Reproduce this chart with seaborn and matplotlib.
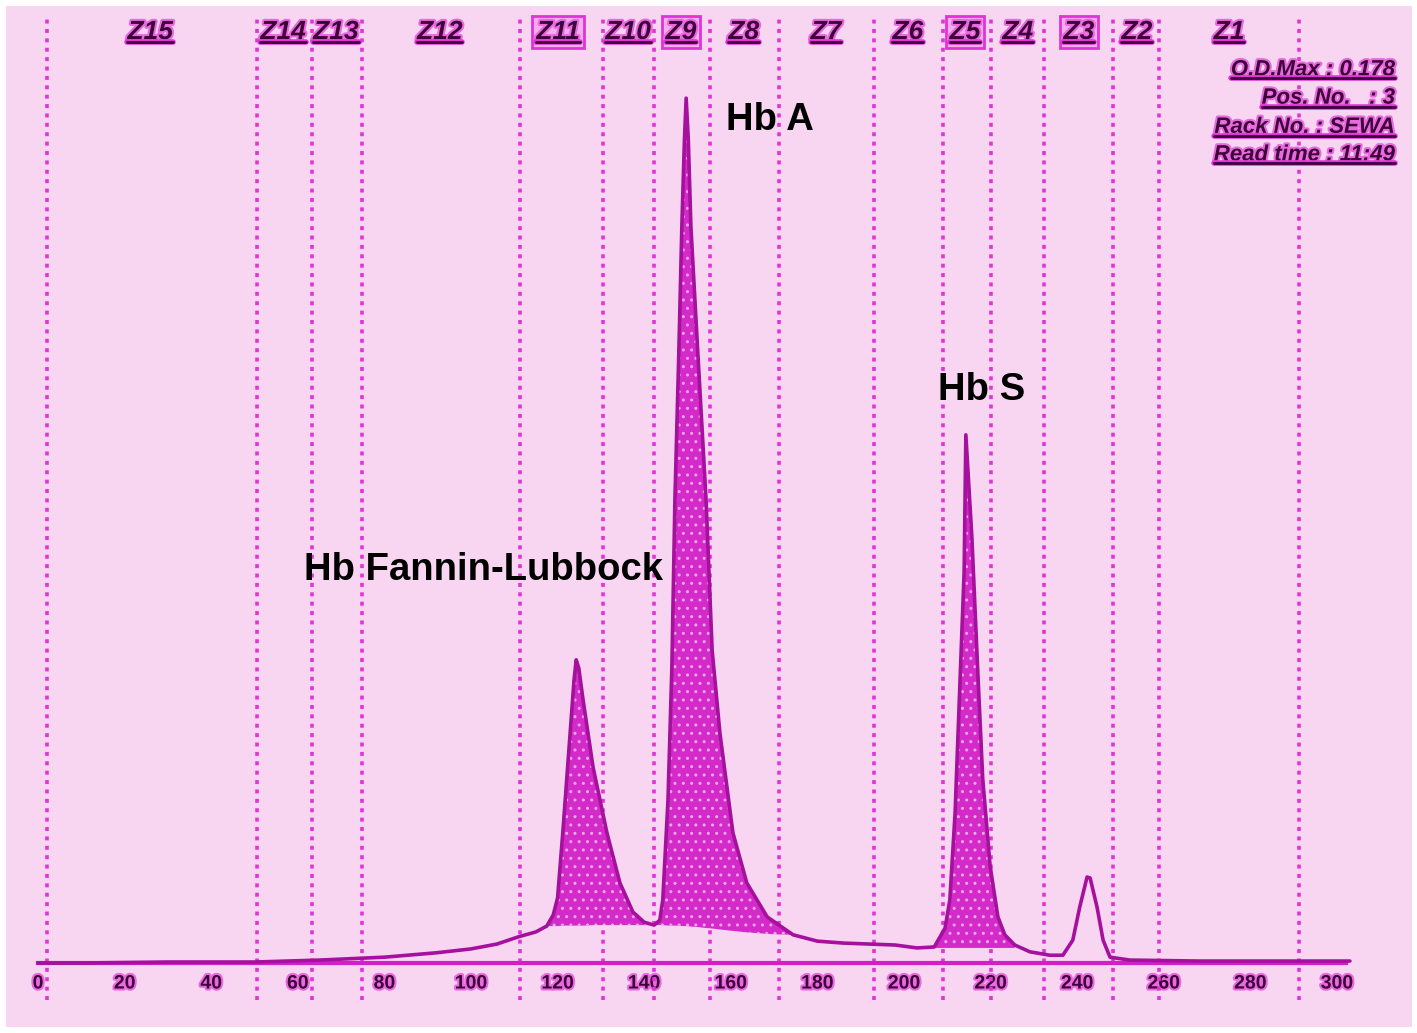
import numpy as np
import matplotlib
matplotlib.use("Agg")
import matplotlib.pyplot as plt
import matplotlib.patheffects as pe
from matplotlib.patches import Rectangle
from matplotlib.lines import Line2D
import seaborn as sns

# Electropherogram trace: migration position vs optical density
trace_x = [0, 10, 30, 50, 65, 80, 92, 100, 106, 111, 115, 117.5, 119, 120,
           121.2, 122.9, 123.8, 124.3, 124.9, 125.9, 128.2, 131.4, 134.4, 137.4,
           140.0, 142.3, 143.6, 144.3, 145.5, 146.4, 147.1, 148.0, 148.7, 149.3,
           149.7, 150.2, 150.8, 152.4, 154.3, 155.7, 157.5, 160.5, 163.7, 168.4,
           174.4, 180, 186, 192, 198, 203, 207, 209.5, 210.6, 211.8, 212.7,
           213.9, 214.3, 215.7, 217.1, 218.2, 219.9, 221.7, 223.3, 225.6, 229.1,
           233.7, 236.7, 239.0, 240.6, 242.3, 243.0, 244.6, 246.0, 247.6, 252.2,
           268.4, 303]
trace_y = [0.0, 0.0, 0.0002, 0.0002, 0.0006, 0.0012, 0.0021, 0.0029, 0.0039,
           0.0054, 0.0064, 0.0076, 0.0099, 0.0134, 0.0268, 0.0473, 0.0582,
           0.0624, 0.0607, 0.0541, 0.0403, 0.0268, 0.0165, 0.0105, 0.0084,
           0.0078, 0.0088, 0.0130, 0.0335, 0.0609, 0.0953, 0.1255, 0.1515,
           0.1694, 0.178, 0.1694, 0.1515, 0.1255, 0.0953, 0.0644, 0.0473,
           0.0268, 0.0165, 0.0095, 0.0058, 0.0045, 0.0041, 0.0039, 0.0037,
           0.0031, 0.0033, 0.0072, 0.0130, 0.0307, 0.0521, 0.0805, 0.1087,
           0.0875, 0.0591, 0.0379, 0.0200, 0.0095, 0.0058, 0.0037, 0.0023,
           0.0016, 0.0016, 0.0047, 0.0115, 0.0177, 0.0175, 0.0115, 0.0047,
           0.0012, 0.0006, 0.0004, 0.0004]
# lower edge of the shaded peak areas (nan = not shaded)
nan = np.nan
base_fl_a = [0.0076, 0.0076, 0.0076, 0.0077, 0.0077, 0.0077, 0.0077, 0.0077,
             0.0077, 0.0078, 0.0078, 0.0078, 0.0078, 0.0078, 0.0078, 0.0078,
             0.0078, 0.0077, 0.0077, 0.0077, 0.0077, 0.0076, 0.0076, 0.0076,
             0.0076, 0.0075, 0.0074, 0.0072, 0.0071, 0.0069, 0.0066, 0.0063,
             0.0060, 0.0058]
base_s = [0.0031] * 15
fill_base = [nan] * 11 + base_fl_a + [nan] * 4 + base_s + [nan] * 13

dividers = [2.1, 50.6, 63.3, 74.8, 111.3, 130.5, 142.3, 155.2, 171.1, 193.1,
            209.0, 220.1, 232.3, 248.3, 258.9, 291.2]
zone_names = ["Z15", "Z14", "Z13", "Z12", "Z11", "Z10", "Z9", "Z8", "Z7",
              "Z6", "Z5", "Z4", "Z3", "Z2", "Z1"]
zone_x = [25.9, 56.6, 68.8, 92.8, 120.1, 136.3, 148.5, 163.0, 182.0, 200.9,
          214.1, 226.3, 240.4, 253.8, 275.1]
boxed_zones = ["Z11", "Z9", "Z5", "Z3"]

peak_labels = ["Hb Fannin-Lubbock", "Hb A", "Hb S"]
peak_label_x = [61.4, 158.9, 207.9]
peak_label_y = [0.0809, 0.1735, 0.1179]

info_lines = ["O.D.Max : 0.178", "Pos. No.   : 3", "Rack No. : SEWA",
              "Read time : 11:49"]
info_y = [0.1838, 0.1780, 0.1720, 0.1663]

tick_vals = list(range(0, 301, 20))

sns.set_style("white")
plt.rcParams["font.family"] = ["Liberation Sans", "DejaVu Sans"]

pink = "#f8d6f2"
magenta = "#e034d6"
dark = "#3e0038"

fig = plt.figure(figsize=(14.17, 10.33), dpi=100)
fig.patch.set_facecolor("white")
fig.add_artist(Rectangle((6 / 1417, 6 / 1033), 1406 / 1417, 1021 / 1033,
                         transform=fig.transFigure, facecolor=pink,
                         edgecolor="none", zorder=0))

ax = fig.add_axes([0, 70 / 1033, 1, 963 / 1033])
ax.patch.set_alpha(0)
ax.set_xlim(-8.78, 318.5)
ax.set_ylim(0, 0.1982)

# zone dividers
ax.vlines(dividers, -0.0076, 0.195, colors=magenta, linestyles=(0, (1.1, 1.5)),
          linewidth=2.6, clip_on=False, zorder=1)

# shaded peaks
ax.fill_between(trace_x, trace_y, fill_base, facecolor="#d42ac9",
                edgecolor="#f0a8ea", hatch="..", linewidth=0, zorder=2)
sns.lineplot(x=trace_x, y=trace_y, ax=ax, color="#a5109c", linewidth=2.6,
             estimator=None, sort=False, zorder=3)
ax.lines[-1].set_clip_on(False)

for s in ["left", "right", "top"]:
    ax.spines[s].set_visible(False)
ax.spines["bottom"].set_bounds(0, 302)
ax.spines["bottom"].set_color("#d020c8")
ax.spines["bottom"].set_linewidth(3)
ax.set_yticks([])
ax.set_xticks(tick_vals)
ax.tick_params(axis="x", length=0, pad=9, labelsize=14, labelcolor=dark)
glow = [pe.withStroke(linewidth=3, foreground="#e86ade")]
for lab in ax.get_xticklabels():
    lab.set_fontweight("bold")
    lab.set_path_effects(glow)

underlined = []
for name, zx in zip(zone_names, zone_x):
    box = None
    if name in boxed_zones:
        box = dict(boxstyle="square,pad=0.15", facecolor="#f4aeea",
                   edgecolor=magenta, linewidth=2)
    t = ax.text(zx, 0.1916, name, ha="center", va="center", fontsize=19,
                fontweight="bold", fontstyle="italic", color=dark,
                path_effects=glow, bbox=box, zorder=5)
    underlined.append(t)

for line, iy in zip(info_lines, info_y):
    t = ax.text(313.4, iy, line, ha="right", va="center", fontsize=16,
                fontweight="bold", fontstyle="italic", color=dark,
                path_effects=glow, zorder=5)
    underlined.append(t)

for lab, lx, ly in zip(peak_labels, peak_label_x, peak_label_y):
    ax.text(lx, ly, lab, ha="left", va="center", fontsize=27.5,
            fontweight="bold", color="black", zorder=6)

# underline the instrument text
fig.canvas.draw()
renderer = fig.canvas.get_renderer()
inv = fig.transFigure.inverted()
for t in underlined:
    bb = t.get_window_extent(renderer)
    (x0, y0), (x1, y1) = inv.transform([[bb.x0, bb.y0], [bb.x1, bb.y1]])
    fig.add_artist(Line2D([x0, x1], [y0 + 0.002, y0 + 0.002],
                          transform=fig.transFigure, color=dark,
                          linewidth=2, zorder=6,
                          path_effects=[pe.withStroke(linewidth=4,
                                                      foreground=magenta)]))

fig.savefig("out.png", dpi=100, facecolor=fig.get_facecolor())
